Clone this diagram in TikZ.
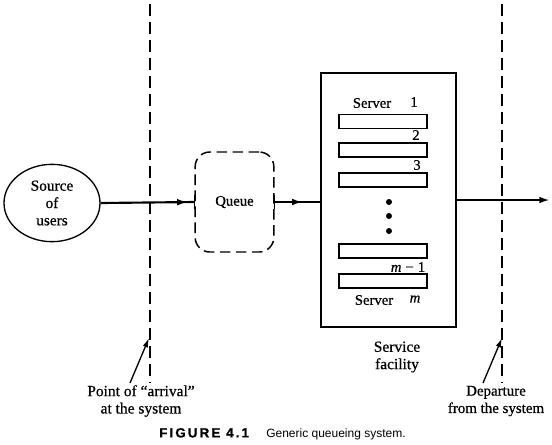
\documentclass[tikz,border=0pt]{standalone}
\usepackage{fontspec}
\setmainfont{Liberation Serif}[FakeBold=0.6,ItalicFeatures={FakeBold=0.6}]
\newfontfamily\capfont{Liberation Sans}
\newfontfamily\capfontsp[LetterSpace=16,FakeBold=1]{Liberation Sans}
\usetikzlibrary{shapes.geometric,arrows.meta,decorations.markings}
\begin{document}
\begin{tikzpicture}[x=0.75pt,y=-0.75pt,
  line/.style={line width=1.6pt},
  midarrow/.style={postaction={decorate},decoration={markings,
     mark=at position #1 with {\arrow{Latex[length=8pt,width=5pt]}}}},
  bound/.style={line width=1.1pt,dash pattern=on 9pt off 4.5pt},
  qbox/.style={draw,line width=1.1pt,dash pattern=on 8pt off 4pt,rounded corners=11pt,
     minimum width=59pt,minimum height=75pt,font=\fontsize{11}{13}\selectfont},
  srv/.style={draw,line width=1pt,minimum width=66pt,minimum height=10.5pt,inner sep=0pt},
  lbl/.style={font=\fontsize{11}{13}\selectfont,inner sep=0pt},
  big/.style={font=\fontsize{11.6}{13}\selectfont,align=center,inner sep=0pt},
  dot/.style={circle,fill,inner sep=0pt,minimum size=4.5pt}
]
\useasboundingbox (0,0) rectangle (552,444);
% system boundaries
\coordinate (lt) at (150,4);
\coordinate (lb) at (150,383);
\coordinate (rt) at (502,4);
\coordinate (rb) at (502,383);
\draw[bound] (lt) -- (lb);
\draw[bound] (rt) -- (rb);
% source
\node[ellipse,draw,line width=1pt,minimum width=72pt,minimum height=58pt,inner sep=0pt,
  big,font=\fontsize{11.5}{13}\selectfont] (src) at (52,203) {Source\\of\\users};
% queue
\node[qbox] (queue) at (234.5,202) {Queue};
\draw[line width=1.1pt] ([yshift=5pt]queue.west) -- ([yshift=-5pt]queue.west);
\draw[line width=1.1pt] ([yshift=5pt]queue.east) -- ([yshift=-5pt]queue.east);
% facility
\node[draw,line width=1.5pt,minimum width=101pt,minimum height=190.5pt,inner sep=0pt] (fac) at (388.5,200) {};
\node[srv] (s1) at (383,121.5) {};
\node[srv] (s2) at (383,150) {};
\node[srv] (s3) at (383,180) {};
\node[srv] (s4) at (383,251) {};
\node[srv] (s5) at (383,281) {};
\node[lbl] (l1) at (372,103) {Server};
\node[lbl] (n1) at (414,102) {1};
\node[lbl] (n2) at (416,135) {2};
\node[lbl] (n3) at (417,165) {3};
\node[dot] (d1) at (389,202) {};
\node[dot] (d2) at (389,216) {};
\node[dot] (d3) at (389,231) {};
\node[lbl] (nm1) at (408,267) {\textit{m}\;−\;1};
\node[lbl] (l5) at (374,300) {Server};
\node[lbl] (nm) at (415,299) {\textit{m}};
\node[big] (sf) at (397,357) {Service\\facility};
% connectors
\coordinate (out) at (550,200);
\draw[line,midarrow=0.93] (src.east) -- (queue.west);
\draw[line,midarrow=0.62] (queue.east) -- (fac.west |- queue.east);
\draw[line,-{Latex[length=8pt,width=5pt]}] (fac.east |- out) -- (out);
% labels at bottom
\node[big] (arr) at (141,401) {Point of ``arrival''\\at the system};
\node[big,font=\fontsize{11.2}{13}\selectfont] (dep) at (496,401) {Departure\\from the system};
\coordinate (a1) at (130,383);
\coordinate (a2) at (149,338);
\coordinate (b1) at (483,383);
\coordinate (b2) at (502,338);
\draw[line width=1pt,-{Latex[length=7pt,width=4pt]}] (a1) -- (a2);
\draw[line width=1pt,-{Latex[length=7pt,width=4pt]}] (b1) -- (b2);
% caption
\node[inner sep=0pt,anchor=west] (cap) at (159,434) {{\capfontsp\bfseries\fontsize{10}{11}\selectfont FIGURE 4.1}\hspace{13pt}{\capfont\fontsize{9}{11}\selectfont Generic queueing system.}};
\end{tikzpicture}
\end{document}
